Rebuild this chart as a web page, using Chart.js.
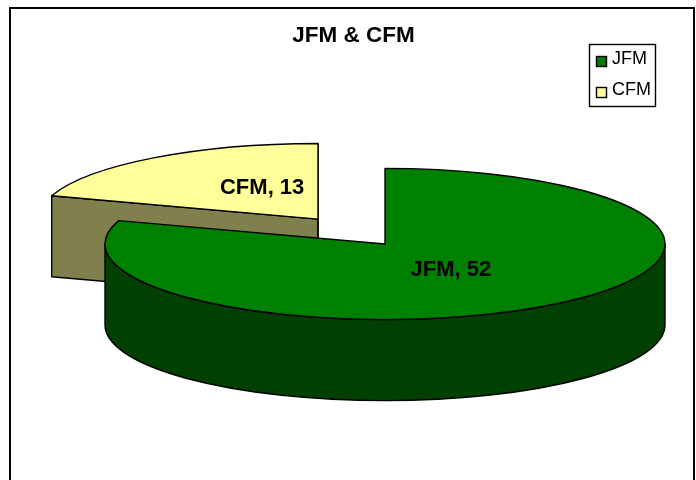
<!DOCTYPE html>
<html><head><meta charset="utf-8">
<script src="https://cdn.jsdelivr.net/npm/chart.js@4"></script>
<style>html,body{margin:0;padding:0;background:#fff}canvas{display:block}</style>
</head><body><canvas id="c" width="696" height="480"></canvas>
<script>
const categories = ['JFM', 'CFM'];
const values = [52, 13];
const topColors = ['#008000', '#FFFF99'];
const wallColors = ['#004000', '#80804C'];
const explode = [0, 114];
const chartTitle = 'JFM & CFM';

const SQUISH = 0.27, DEPTH = 81, LABEL_R = 0.4;
const labelNudge = [[0, 1], [10, -7]];
const FF = '"Liberation Sans", Arial, sans-serif';

const pie3d = {
  id: 'pie3d',
  beforeDatasetDraw(chart) {
    const ctx = chart.ctx, arcs = chart.getDatasetMeta(0).data;
    const geo = arcs.map((a, i) => {
      const mid = (a.startAngle + a.endAngle) / 2, off = a.options.offset || 0;
      return { a, i, mid, cx: a.x + Math.cos(mid) * off, cy: a.y + Math.sin(mid) * off * SQUISH,
               rx: a.outerRadius, ry: a.outerRadius * SQUISH };
    });
    ctx.save();
    ctx.lineWidth = 1.4; ctx.strokeStyle = '#000'; ctx.lineJoin = 'round';
    // the exploded slice sits behind, so paint it first
    geo.slice().sort((p, q) => q.a.options.offset - p.a.options.offset).forEach(g => {
      const { a, cx, cy, rx, ry, i } = g;
      const s = a.startAngle, e = a.endAngle;
      ctx.fillStyle = wallColors[i];
      const face = ang => {
        ctx.beginPath();
        ctx.moveTo(cx, cy);
        ctx.lineTo(cx + Math.cos(ang) * rx, cy + Math.sin(ang) * ry);
        ctx.lineTo(cx + Math.cos(ang) * rx, cy + Math.sin(ang) * ry + DEPTH);
        ctx.lineTo(cx, cy + DEPTH);
        ctx.closePath(); ctx.fill(); ctx.stroke();
      };
      if (Math.cos(s) < 0) face(s);
      if (Math.cos(e) > 0) face(e);
      // outer wall over the front half of the ellipse
      const lo = Math.max(s, 0), hi = Math.min(e, Math.PI);
      if (hi > lo) {
        ctx.beginPath();
        ctx.ellipse(cx, cy, rx, ry, 0, lo, hi);
        ctx.ellipse(cx, cy + DEPTH, rx, ry, 0, hi, lo, true);
        ctx.closePath(); ctx.fill(); ctx.stroke();
      }
      ctx.fillStyle = topColors[i];
      ctx.beginPath();
      ctx.moveTo(cx, cy);
      ctx.ellipse(cx, cy, rx, ry, 0, s, e);
      ctx.closePath(); ctx.fill(); ctx.stroke();
    });
    // data labels
    ctx.fillStyle = '#000'; ctx.font = 'bold 22px ' + FF;
    ctx.textAlign = 'center'; ctx.textBaseline = 'middle';
    geo.forEach(g => {
      ctx.fillText(categories[g.i] + ', ' + values[g.i],
        g.cx + Math.cos(g.mid) * g.rx * LABEL_R + labelNudge[g.i][0],
        g.cy + Math.sin(g.mid) * g.ry * LABEL_R + labelNudge[g.i][1]);
    });
    ctx.restore();
    return false;
  },
  afterDraw(chart) {
    const ctx = chart.ctx;
    ctx.save();
    // outer frame (open at the bottom of the picture)
    ctx.strokeStyle = '#000'; ctx.lineWidth = 2;
    ctx.strokeRect(10, 8, 684, 500);
    // title
    ctx.fillStyle = '#000'; ctx.font = 'bold 22.5px ' + FF;
    ctx.textAlign = 'center'; ctx.textBaseline = 'middle';
    ctx.fillText(chartTitle, 353.5, 36);
    // legend
    ctx.fillStyle = '#fff'; ctx.lineWidth = 1.4;
    ctx.fillRect(589.5, 44.5, 66, 62); ctx.strokeRect(589.5, 44.5, 66, 62);
    ctx.font = '18px ' + FF; ctx.textAlign = 'left';
    categories.forEach((c, i) => {
      const y = 59.5 + i * 31;
      ctx.fillStyle = topColors[i];
      ctx.fillRect(596.5, y - 3, 10, 10); ctx.strokeRect(596.5, y - 3, 10, 10);
      ctx.fillStyle = '#000';
      ctx.fillText(c, 612, y);
    });
    ctx.restore();
  }
};

new Chart(document.getElementById('c'), {
  type: 'pie',
  data: { labels: categories, datasets: [{ data: values, backgroundColor: topColors, offset: explode, radius: 280, borderWidth: 0 }] },
  options: {
    responsive: false, animation: false,
    layout: { padding: { left: 74, right: 0, top: 8, bottom: 0 } },
    plugins: { legend: { display: false }, title: { display: false }, tooltip: { enabled: false } }
  },
  plugins: [pie3d]
});
</script></body></html>
